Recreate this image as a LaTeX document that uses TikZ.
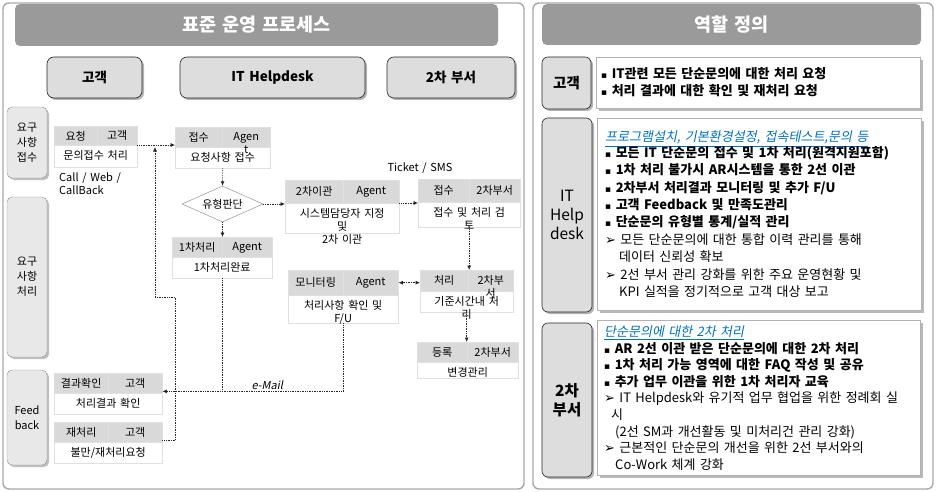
\documentclass[tikz,border=0pt]{standalone}
\usepackage{fontspec}
\setmainfont{Noto Sans CJK KR}[WordSpace=1.5]
\newfontfamily\symfont{DejaVu Sans}
\newfontfamily\slfont{Noto Sans CJK KR}[FakeSlant=0.2, WordSpace=1.5]
\usetikzlibrary{arrows.meta,shapes.geometric,shadows,calc}
\definecolor{bargray}{HTML}{9A9A9A}
\definecolor{framegray}{HTML}{A8A8A8}
\definecolor{rolegray}{HTML}{DDDDDD}
\definecolor{lanegray}{HTML}{E8E8E8}
\definecolor{cellgray}{HTML}{D9D9D9}
\definecolor{edgegray}{HTML}{E0E0E0}
\definecolor{linkblue}{HTML}{0070C0}
\newcommand{\bul}{{\symfont\fontsize{9}{10}\selectfont ▪}\ }
\newcommand{\arw}{{\symfont ➢}\ }
\newcommand{\fsz}[2]{\fontsize{#1}{#2}\selectfont}

\begin{document}
\begin{tikzpicture}[
    x=1pt, y=-1pt,
    >={Latex[length=4.5pt,width=4pt]},
    frame/.style={draw=framegray, line width=1.4pt, rounded corners=6pt},
    bar/.style={fill=bargray, rounded corners=5pt, text=white, inner sep=0pt, font=\fsz{18.5}{22}\bfseries},
    role/.style={draw=black!85, fill=rolegray, rounded corners=7pt, line width=0.6pt, inner sep=0pt,
      drop shadow={shadow xshift=2pt, shadow yshift=-2pt, opacity=0.6}, font=\fsz{13.5}{15}\bfseries},
    lane/.style={draw=black!45, fill=lanegray, rounded corners=5pt, inner sep=0pt, align=center,
      drop shadow={shadow xshift=2pt, shadow yshift=-2pt, opacity=0.5}, font=\fsz{11}{15}},
    hcell/.style={draw=edgegray, fill=cellgray, inner sep=0pt},
    bcell/.style={draw=edgegray, fill=white, inner sep=0pt},
    ctxt/.style={inner sep=0pt, align=center, font=\fsz{11}{13}},
    note/.style={inner sep=0pt, align=left, font=\fsz{11}{12.5}},
    decide/.style={diamond, draw=black!50, fill=white, aspect=2.25, inner sep=0pt,
      minimum width=81pt, minimum height=36pt, font=\fsz{11}{13}},
    flow/.style={draw=black!85, densely dotted, line width=0.7pt, ->},
    link/.style={draw=black!85, densely dotted, line width=0.7pt},
    rolebox/.style={draw=black!30, fill=white, inner sep=0pt,
      drop shadow={shadow xshift=3pt, shadow yshift=-3pt, opacity=0.55}},
    roletxt/.style={inner sep=0pt, align=left, anchor=north west, font=\fsz{13}{17.4}},
  ]
  \useasboundingbox (0,0) rectangle (936,492);

  % ---- the two panels
  \draw[frame] (3,3) rectangle (524,489);
  \draw[frame] (533,3) rectangle (933,489);
  \node[bar, minimum width=483pt, minimum height=42pt] (ltitle) at (256.5,25) {표준 운영 프로세스};
  \node[bar, minimum width=379pt, minimum height=41pt] (rtitle) at (731.5,24.5) {역할 정의};

  % ---- who does the work
  \node[role, minimum width=95pt, minimum height=41pt] (cust) at (94.5,77.5) {고객};
  \node[role, minimum width=185pt, minimum height=41pt] (desk) at (272.5,77.5) {IT Helpdesk};
  \node[role, minimum width=128pt, minimum height=41pt] (dept) at (451,77.5) {2차 부서};

  % ---- stages
  \node[lane, minimum width=40pt, minimum height=71pt] (recv) at (27,142.5) {요구\\사항\\접수};
  \node[lane, minimum width=40pt, minimum height=160pt] (work) at (27,277) {요구\\사항\\처리};
  \node[lane, minimum width=40pt, minimum height=95pt] (feed) at (27,417.5) {Feed\\back};

  % ---- process boxes: header cells and body
  \foreach \n/\xa/\xs/\xb/\ya/\yh/\yb/\ta/\tb/\tc in {
      rq/54/97/137/126/145/167/요청/고객/{문의접수 처리},
      rc/175/222/270/127/147/168/접수/{Agen\\t}/{요청사항 접수},
      fs/172/222/272/237/257/278/1차처리/Agent/1차처리완료,
      tr/285/343/399/180/203/233/2차이관/Agent/{시스템담당자 지정\\및\\2차 이관},
      sr/418/469/520/179/202/227/접수/2차부서/{접수 및 처리 검\\토},
      mo/288/343/398/270/295/323/모니터링/Agent/{처리사항 확인 및\\F/U},
      pr/420/468/513/270/291/312/처리/{2차부\\서}/{기준시간내 처\\리},
      rg/417/467/518/342/362/378/등록/2차부서/변경관리,
      ck/54/108/162/373/393/414/결과확인/고객/{처리결과 확인},
      re/54/108/162/422/442/463/재처리/고객/{불만/재처리요청}} {
    \pgfmathsetmacro\wa{\xs-\xa}
    \pgfmathsetmacro\wb{\xb-\xs}
    \pgfmathsetmacro\wc{\xb-\xa}
    \pgfmathsetmacro\hh{\yh-\ya}
    \pgfmathsetmacro\hb{\yb-\yh}
    \node[hcell, anchor=north west, minimum width=\wa pt, minimum height=\hh pt] (\n-a) at (\xa,\ya) {};
    \node[hcell, anchor=north west, minimum width=\wb pt, minimum height=\hh pt] (\n-b) at (\xs,\ya) {};
    \node[bcell, anchor=north west, minimum width=\wc pt, minimum height=\hb pt] (\n) at (\xa,\yh) {};
    \node[ctxt, anchor=north, yshift=5pt] (\n-at) at (\n-a.center) {\ta};
    \node[ctxt, anchor=north, yshift=5pt] (\n-bt) at (\n-b.center) {\tb};
    \node[ctxt, anchor=north, yshift=-5pt] (\n-ct) at (\n.north) {\tc};
  }

  \node[decide] (dt) at (222.5,204) {유형판단};

  % ---- channels
  \node[note, anchor=north west] (chan) at (59,173) {Call / Web /\\CallBack};
  \node[note] (tick) at (420,168) {Ticket / SMS};

  % ---- flow of a request
  \draw[flow] (rq.north east) -- (rq.north east -| rc.west);
  \draw[flow] (rc.south) -- (dt.north);
  \draw[flow] (dt.south) -- (dt.south |- fs-a.north);
  \draw[flow] (dt.east) -- (dt.east -| tr.west);
  \draw[flow] (tr.north east) -- (tr.north east -| sr.west);
  \draw[flow] (sr.south) -- (sr.south |- pr-a.north);
  \draw[flow, <->] (mo-b.east) -- (mo-b.east -| pr-a.west);
  \draw[flow] (pr.south) -- (pr.south |- rg-a.north);

  % ---- result back to the customer
  \coordinate (mailin) at ($(ck-b.south east)+(0,-2)$);
  \draw[flow] (mo.south) |- node[pos=0.71, above=1pt, font=\slfont\fsz{11}{12}, inner sep=0pt] (mail) {e-Mail} (mailin);
  \draw[link] (fs.south) -- (fs.south |- mailin);

  % ---- rework request goes back to reception
  \coordinate (rework) at ($(re-b.south east)+(0,-2)$);
  \coordinate (loopend) at (155,147);
  \draw[flow] (rework) -| (175,297) -| (loopend);

  % ---- role definitions
  \node[role, minimum width=49pt, minimum height=52pt, rounded corners=6pt, font=\fsz{14.5}{16}\bfseries] (rcust) at (566.5,83) {고객};
  \node[role, minimum width=50pt, minimum height=194pt, rounded corners=6pt, align=center, font=\fsz{15.5}{19}] (rdesk) at (567,215) {IT\\Help\\desk};
  \node[role, minimum width=50pt, minimum height=154pt, rounded corners=6pt, align=center, font=\fsz{15.5}{19}\bfseries] (rdept) at (567,400) {2차\\부서};

  \node[rolebox, minimum width=324pt, minimum height=51pt] (c1) at (758,82.5) {};
  \node[rolebox, minimum width=324pt, minimum height=192pt] (c2) at (759,214) {};
  \node[rolebox, minimum width=323pt, minimum height=155pt] (c3) at (758.5,397.5) {};

  \node[roletxt, font=\fsz{13}{17}\bfseries] (c1t) at (601,67) {%
    \bul IT관련 모든 단순문의에 대한 처리 요청\\
    \bul 처리 결과에 대한 확인 및 재처리 요청};

  \node[roletxt] (c2t) at (605,131) {%
    {\color{linkblue}\slfont\underline{프로그램설치, 기본환경설정, 접속테스트,문의 등}}\\[-2pt]
    {\bfseries\bul 모든 IT 단순문의 접수 및 1차 처리(원격지원포함)}\\
    {\bfseries\bul 1차 처리 불가시 AR시스템을 통한 2선 이관}\\
    {\bfseries\bul 2차부서 처리결과 모니터링 및 추가 F/U}\\
    {\bfseries\bul 고객 Feedback 및 만족도관리}\\
    {\bfseries\bul 단순문의 유형별 통계/실적 관리}\\
    \arw 모든 단순문의에 대한 통합 이력 관리를 통해\\
    \hspace*{14pt}데이터 신뢰성 확보\\
    \arw 2선 부서 관리 강화를 위한 주요 운영현황 및\\
    \hspace*{14pt}KPI 실적을 정기적으로 고객 대상 보고};

  \node[roletxt, font=\fsz{13}{16.6}] (c3t) at (604,325.5) {%
    {\color{linkblue}\slfont\underline{단순문의에 대한 2차 처리}}\\
    {\bfseries\bul AR 2선 이관 받은 단순문의에 대한 2차 처리}\\
    {\bfseries\bul 1차 처리 가능 영역에 대한 FAQ 작성 및 공유}\\
    {\bfseries\bul 추가 업무 이관을 위한 1차 처리자 교육}\\
    \arw IT Helpdesk와 유기적 업무 협업을 위한 정례회 실\\
    \hspace*{7pt}시\\
    \hspace*{11pt}(2선 SM과 개선활동 및 미처리건 관리 강화)\\
    \arw 근본적인 단순문의 개선을 위한 2선 부서와의\\
    \hspace*{11pt}Co-Work 체계 강화};

\end{tikzpicture}
\end{document}
